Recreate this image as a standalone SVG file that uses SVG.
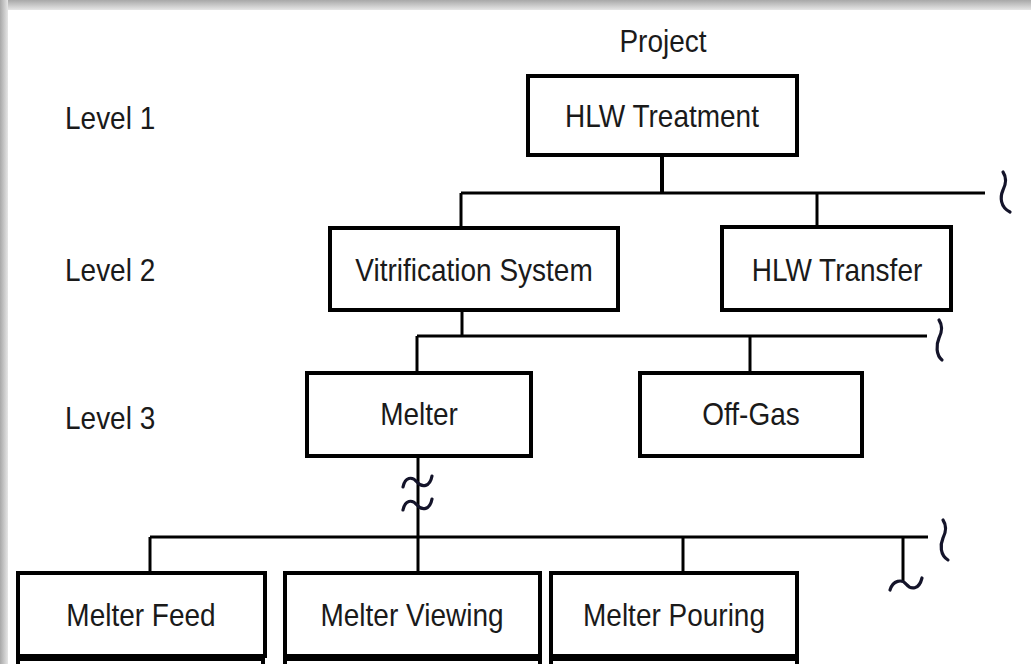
<svg xmlns="http://www.w3.org/2000/svg" width="1031" height="664" viewBox="0 0 1031 664">
  <defs>
    <linearGradient id="shTop" x1="0" y1="0" x2="0" y2="1">
      <stop offset="0" stop-color="#a8a8a8"/>
      <stop offset="1" stop-color="#e6e6e6"/>
    </linearGradient>
    <linearGradient id="shLeft" x1="0" y1="0" x2="1" y2="0">
      <stop offset="0" stop-color="#a8a8a8"/>
      <stop offset="1" stop-color="#e6e6e6"/>
    </linearGradient>
  </defs>
  <style>
    .box { fill: #fff; stroke: #000; stroke-width: 4; }
    .ln { stroke: #000; stroke-width: 3; fill: none; }
    .brk { stroke: #14142a; stroke-width: 3.2; fill: none; stroke-linecap: round; }
    .t { font-family: "Liberation Sans", Arial, sans-serif; font-size: 28px; fill: #1a1a1a; text-anchor: middle; }
    .lv { font-family: "Liberation Sans", Arial, sans-serif; font-size: 28px; fill: #1a1a1a; }
  </style>
  <rect x="0" y="0" width="1031" height="664" fill="#fff"/>
  <rect x="0" y="0" width="1031" height="10" fill="url(#shTop)"/>
  <rect x="0" y="0" width="8" height="664" fill="url(#shLeft)"/>

  <text class="t" transform="translate(663,52) scale(1,1.15)">Project</text>
  <text class="lv" transform="translate(65,129) scale(1,1.15)">Level 1</text>
  <text class="lv" transform="translate(65,281) scale(1,1.15)">Level 2</text>
  <text class="lv" transform="translate(65,429) scale(1,1.15)">Level 3</text>

  <g id="connectors">
    <line class="ln" x1="662" y1="155" x2="662" y2="193" style="stroke-width:4"/>
    <line class="ln" x1="461" y1="193" x2="985" y2="193"/>
    <line class="ln" x1="461" y1="193" x2="461" y2="228"/>
    <line class="ln" x1="817" y1="193" x2="817" y2="227"/>
    <path class="brk" d="M1003,172 C1007,178 1006,184 1003,190 C1000,197 1000,207 1010,212"/>

    <line class="ln" x1="462" y1="310" x2="462" y2="336"/>
    <line class="ln" x1="417" y1="336" x2="927" y2="336"/>
    <line class="ln" x1="417" y1="336" x2="417" y2="373"/>
    <line class="ln" x1="750" y1="336" x2="750" y2="373"/>
    <path class="brk" d="M939,320 C943,326 942,332 939,338 C936,345 936,355 942,360"/>

    <line class="ln" x1="418" y1="456" x2="418" y2="537"/>
    <path class="brk" d="M403,487 C405,477 412,476 417,482 C422,488 430,487 432,476"/>
    <path class="brk" d="M403,510 C405,500 412,499 417,505 C422,511 430,510 432,499"/>
    <line class="ln" x1="150" y1="537" x2="928" y2="537"/>
    <line class="ln" x1="150" y1="537" x2="150" y2="573"/>
    <line class="ln" x1="418" y1="537" x2="418" y2="573"/>
    <line class="ln" x1="683" y1="537" x2="683" y2="573"/>
    <line class="ln" x1="903" y1="537" x2="903" y2="582"/>
    <path class="brk" d="M890,590 C893,580 902,579 906,584 C911,590 919,590 922,578"/>
    <path class="brk" d="M943,520 C947,526 946,532 943,538 C940,545 940,555 948,560"/>
  </g>

  <g id="n-hlw-treatment">
    <rect class="box" x="528" y="76" width="269" height="79"/>
    <text class="t" transform="translate(662,127) scale(1,1.15)">HLW Treatment</text>
  </g>
  <g id="n-vitrification">
    <rect class="box" x="330" y="228" width="288" height="82"/>
    <text class="t" transform="translate(474,281) scale(1,1.15)">Vitrification System</text>
  </g>
  <g id="n-hlw-transfer">
    <rect class="box" x="722" y="227" width="229" height="83"/>
    <text class="t" transform="translate(837,281) scale(1,1.15)">HLW Transfer</text>
  </g>
  <g id="n-melter">
    <rect class="box" x="307" y="373" width="224" height="83"/>
    <text class="t" transform="translate(419,425) scale(1,1.15)">Melter</text>
  </g>
  <g id="n-offgas">
    <rect class="box" x="640" y="373" width="222" height="83"/>
    <text class="t" transform="translate(751,425) scale(1,1.15)">Off-Gas</text>
  </g>
  <g id="n-melter-feed">
    <rect class="box" x="18" y="573" width="247" height="83"/>
    <text class="t" transform="translate(141,626) scale(1,1.15)">Melter Feed</text>
    <rect class="box" x="18" y="659" width="245" height="40"/>
  </g>
  <g id="n-melter-viewing">
    <rect class="box" x="285" y="573" width="255" height="83"/>
    <text class="t" transform="translate(412,626) scale(1,1.15)">Melter Viewing</text>
    <rect class="box" x="285" y="659" width="255" height="40"/>
  </g>
  <g id="n-melter-pouring">
    <rect class="box" x="551" y="573" width="246" height="83"/>
    <text class="t" transform="translate(674,626) scale(1,1.15)">Melter Pouring</text>
    <rect class="box" x="551" y="659" width="246" height="40"/>
  </g>
</svg>
